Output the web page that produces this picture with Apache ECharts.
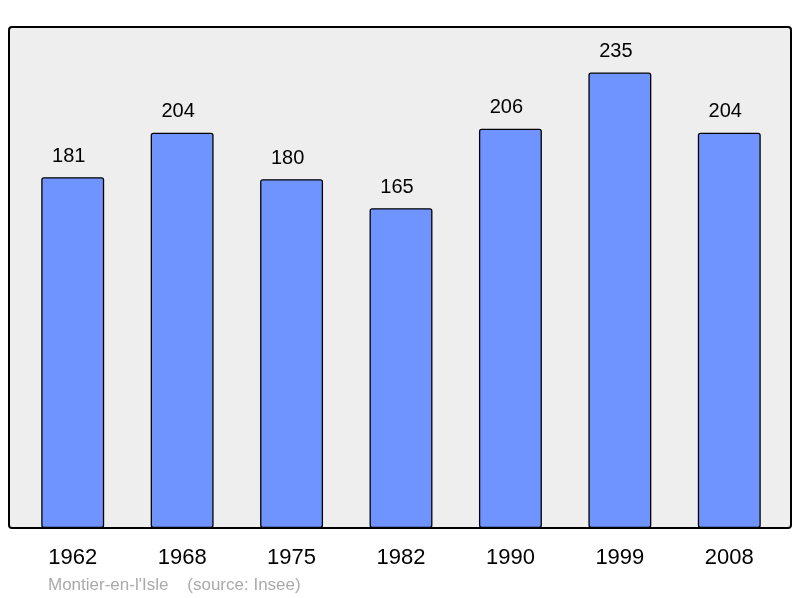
<!DOCTYPE html>
<html>
<head>
<meta charset="utf-8">
<script src="https://cdn.jsdelivr.net/npm/echarts@6/dist/echarts.min.js"></script>
<style>
  html, body { margin: 0; padding: 0; background: #fff; }
  #chart { width: 800px; height: 598px; }
</style>
</head>
<body>
<div id="chart"></div>
<script>
// Population by census year
var years = ['1962', '1968', '1975', '1982', '1990', '1999', '2008'];
var population = [181, 204, 180, 165, 206, 235, 204];

var chart = echarts.init(document.getElementById('chart'), null, {renderer: 'canvas'});

var option = {
  animation: false,
  textStyle: {
    fontFamily: 'Liberation Sans, Arial, sans-serif'
  },
  grid: {
    left: 18,
    right: 16,
    top: 27,
    bottom: 70
  },
  graphic: [
    {
      type: 'rect',
      z: -10,
      shape: {x: 9, y: 27, width: 782, height: 501, r: 3},
      style: {fill: '#eeeeee', stroke: '#000', lineWidth: 2}
    },
    {
      type: 'text',
      left: 48,
      top: 577,
      style: {
        text: "Montier-en-l'Isle    (source: Insee)",
        fill: '#aaaaaa',
        font: '17px Liberation Sans, Arial, sans-serif'
      }
    }
  ],
  xAxis: {
    type: 'category',
    data: years,
    axisLine: {show: false},
    axisTick: {show: false},
    axisLabel: {
      margin: 19,
      fontSize: 22,
      color: '#000'
    }
  },
  yAxis: {
    type: 'value',
    min: 0,
    max: 258.5,
    show: false,
    splitLine: {show: false}
  },
  series: [{
    type: 'bar',
    data: population,
    barWidth: '57.5%',
    itemStyle: {
      color: '#7094ff',
      borderColor: '#000',
      borderWidth: 1.3,
      borderRadius: 2
    },
    label: {
      show: true,
      position: 'top',
      distance: 11,
      offset: [-4, 0],
      fontSize: 20,
      color: '#000'
    }
  }]
};

chart.setOption(option);
</script>
</body>
</html>
